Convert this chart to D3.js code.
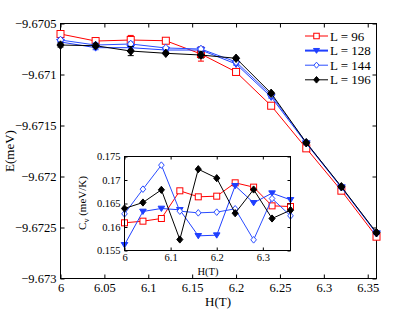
<!DOCTYPE html>
<html><head><meta charset="utf-8">
<script src="https://cdn.jsdelivr.net/npm/d3@7"></script>
<style>body{margin:0;background:#fff}svg{display:block}text{font-family:"Liberation Serif","DejaVu Serif",serif;fill:#000}</style>
</head><body><svg id="c" width="415" height="315"></svg>
<script>
const H = [6.00, 6.04, 6.08, 6.12, 6.16, 6.20, 6.24, 6.28, 6.32, 6.36];
const seriesNames = ["L = 96", "L = 128", "L = 144", "L = 196"];
const E96  = [-9.670603, -9.670672, -9.670662, -9.670669, -9.670799, -9.670975, -9.671306, -9.671724, -9.672139, -9.672590];
const E128 = [-9.670681, -9.670737, -9.670737, -9.670760, -9.670760, -9.670897, -9.671220, -9.671676, -9.672108, -9.672559];
const E144 = [-9.670662, -9.670711, -9.670701, -9.670740, -9.670750, -9.670877, -9.671201, -9.671667, -9.672103, -9.672554];
const E196 = [-9.670711, -9.670718, -9.670770, -9.670792, -9.670809, -9.670841, -9.671184, -9.671669, -9.672100, -9.672551];
const err96  = [0.00002, 0.000015, 0.000045, 0.00001, 0.00007, 0.00001, 0.00001, 0.00001, 0.00001, 0.00001];
const err128 = [0.00002, 0.00002, 0.00002, 0.00001, 0.00002, 0.00001, 0.00001, 0.00001, 0.00001, 0.00001];
const err144 = [0.00002, 0.00002, 0.00002, 0.00001, 0.00002, 0.00001, 0.00001, 0.00001, 0.00001, 0.00001];
const err196 = [0.00002, 0.00002, 0.000045, 0.00001, 0.00003, 0.00001, 0.00001, 0.00001, 0.00001, 0.00001];
const Cv96  = [0.16089, 0.16124, 0.16181, 0.16770, 0.16642, 0.16656, 0.16940, 0.16848, 0.16450, 0.16436];
const Cv128 = [0.15621, 0.16330, 0.16394, 0.16365, 0.15812, 0.15826, 0.16876, 0.16514, 0.16720, 0.16578];
const Cv144 = [0.16280, 0.16805, 0.17316, 0.16337, 0.16301, 0.16316, 0.16387, 0.15727, 0.16606, 0.16238];
const Cv196 = [0.16394, 0.16521, 0.16791, 0.15734, 0.17230, 0.17039, 0.16294, 0.16798, 0.16181, 0.16358];
const mainXTicks = [6, 6.05, 6.1, 6.15, 6.2, 6.25, 6.3, 6.35];
const mainYTicks = [-9.6705, -9.671, -9.6715, -9.672, -9.6725, -9.673];
const insetXTicks = [6, 6.1, 6.2, 6.3];
const insetYTicks = [0.155, 0.16, 0.165, 0.17, 0.175];

const colors = ["#ff0000", "#1f3fff", "#2a4dff", "#000000"];
const markers = ["square", "triDown", "diamondOpen", "diamondFilled"];

const svg = d3.select("#c");
const fmtY = v => d3.format(".4~f")(v).replace("-", "\u2212");

function drawMarker(g, type, x, y, color, s) {
  if (type === "square") {
    g.append("rect").attr("x", x - s/2).attr("y", y - s/2).attr("width", s).attr("height", s)
      .attr("fill", "#fff").attr("stroke", color).attr("stroke-width", 1);
  } else if (type === "triDown") {
    const h = s * 0.55;
    g.append("path").attr("d", `M${x-h},${y-h*0.7}L${x+h},${y-h*0.7}L${x},${y+h*0.9}Z`)
      .attr("fill", color).attr("stroke", color).attr("stroke-width", 1);
  } else if (type === "diamondOpen") {
    const h = s * 0.55;
    g.append("path").attr("d", `M${x},${y-h}L${x+h*0.85},${y}L${x},${y+h}L${x-h*0.85},${y}Z`)
      .attr("fill", "#fff").attr("stroke", color).attr("stroke-width", 1);
  } else {
    const h = s * 0.6;
    g.append("path").attr("d", `M${x},${y-h}L${x+h*0.85},${y}L${x},${y+h}L${x-h*0.85},${y}Z`)
      .attr("fill", color).attr("stroke", color).attr("stroke-width", 1);
  }
}

function boxAxes(g, x, y, xTicks, yTicks, xFmt, yFmt, fs, tickLen, xPad) {
  const [x0, x1] = x.range(), [y1, y0] = y.range();
  const bx = g.append("g");
  bx.append("g").attr("transform", `translate(0,${y1})`)
    .call(d3.axisBottom(x).tickValues(xTicks).tickFormat(xFmt).tickSizeInner(-tickLen).tickSizeOuter(0).tickPadding(xPad));
  bx.append("g").attr("transform", `translate(0,${y0})`)
    .call(d3.axisTop(x).tickValues(xTicks).tickFormat("").tickSizeInner(-tickLen).tickSizeOuter(0));
  bx.append("g").attr("transform", `translate(${x0},0)`)
    .call(d3.axisLeft(y).tickValues(yTicks).tickFormat(yFmt).tickSizeInner(-tickLen).tickSizeOuter(0).tickPadding(4));
  bx.append("g").attr("transform", `translate(${x1},0)`)
    .call(d3.axisRight(y).tickValues(yTicks).tickFormat("").tickSizeInner(-tickLen).tickSizeOuter(0));
  bx.selectAll(".domain").remove();
  bx.selectAll("line").attr("stroke", "#000");
  bx.selectAll("text").style("font-family", '"Liberation Serif", serif').style("font-size", fs + "px").attr("fill", "#000");
  g.append("rect").attr("x", x0).attr("y", y0).attr("width", x1 - x0).attr("height", y1 - y0)
    .attr("fill", "none").attr("stroke", "#000").attr("stroke-width", 1);
}

// ---------- main plot ----------
const x = d3.scaleLinear().domain([6, 6.36]).range([60.5, 376.5]);
const y = d3.scaleLinear().domain([-9.673, -9.6705]).range([278.5, 23.5]);
const main = svg.append("g");
boxAxes(main, x, y, mainXTicks, mainYTicks, d => d3.format("~g")(d), fmtY, 12.5, 4, 5);

const E = [E96, E128, E144, E196];
const ERR = [err96, err128, err144, err196];
const line = d3.line().x(d => x(d[0])).y(d => y(d[1]));
[0, 1, 2, 3].forEach(i => {
  const g = main.append("g");
  const pts = H.map((h, k) => [h, E[i][k]]);
  g.append("path").attr("d", line(pts)).attr("fill", "none").attr("stroke", colors[i]).attr("stroke-width", 1);
  pts.forEach((p, k) => {
    const cx = x(p[0]), e = ERR[i][k];
    const ya = y(p[1] + e), yb = y(p[1] - e);
    g.append("line").attr("x1", cx).attr("x2", cx).attr("y1", ya).attr("y2", yb).attr("stroke", colors[i]);
    g.append("line").attr("x1", cx - 3).attr("x2", cx + 3).attr("y1", ya).attr("y2", ya).attr("stroke", colors[i]);
    g.append("line").attr("x1", cx - 3).attr("x2", cx + 3).attr("y1", yb).attr("y2", yb).attr("stroke", colors[i]);
    drawMarker(g, markers[i], cx, y(p[1]), colors[i], 7);
  });
});

svg.append("text").attr("x", 218).attr("y", 306).attr("text-anchor", "middle").style("font-size", "13px").text("H(T)");
svg.append("text").attr("transform", "translate(14,151) rotate(-90)").attr("text-anchor", "middle").style("font-size", "13px").text("E(meV)");

// legend
const leg = svg.append("g");
seriesNames.forEach((name, i) => {
  const ly = 36 + i * 14.6;
  leg.append("line").attr("x1", 305).attr("x2", 328).attr("y1", ly).attr("y2", ly)
    .attr("stroke", colors[i]).attr("stroke-width", i === 1 ? 2 : 1);
  drawMarker(leg, markers[i], 316.5, ly, colors[i], 5.5);
  leg.append("text").attr("x", 330).attr("y", ly + 4.5).style("font-size", "13px").text(name);
});

// ---------- inset ----------
const xi = d3.scaleLinear().domain([6, 6.36]).range([124.5, 290.5]);
const yi = d3.scaleLinear().domain([0.155, 0.175]).range([250.5, 156.5]);
const inset = svg.append("g");
inset.append("rect").attr("x", 124.5).attr("y", 156.5).attr("width", 166).attr("height", 94).attr("fill", "#fff");
const CV = [Cv96, Cv128, Cv144, Cv196];
const linei = d3.line().x(d => xi(d[0])).y(d => yi(d[1]));
[0, 1, 2, 3].forEach(i => {
  const g = inset.append("g");
  const pts = H.map((h, k) => [h, CV[i][k]]);
  g.append("path").attr("d", linei(pts)).attr("fill", "none").attr("stroke", colors[i]).attr("stroke-width", 1);
  pts.forEach(p => drawMarker(g, markers[i], xi(p[0]), yi(p[1]), colors[i], 6));
});
boxAxes(inset, xi, yi, insetXTicks, insetYTicks, d => d3.format("~g")(d), d => d3.format("~g")(d), 10.5, 3, 3);
svg.append("text").attr("x", 208).attr("y", 275).attr("text-anchor", "middle").style("font-size", "10.5px").text("H(T)");
const cl = svg.append("text").attr("transform", "translate(86,203) rotate(-90)").attr("text-anchor", "middle").style("font-size", "11px");
cl.append("tspan").text("C");
cl.append("tspan").attr("dy", 3).style("font-size", "8px").text("v");
cl.append("tspan").attr("dy", -3).text(" (meV/K)");
</script></body></html>
